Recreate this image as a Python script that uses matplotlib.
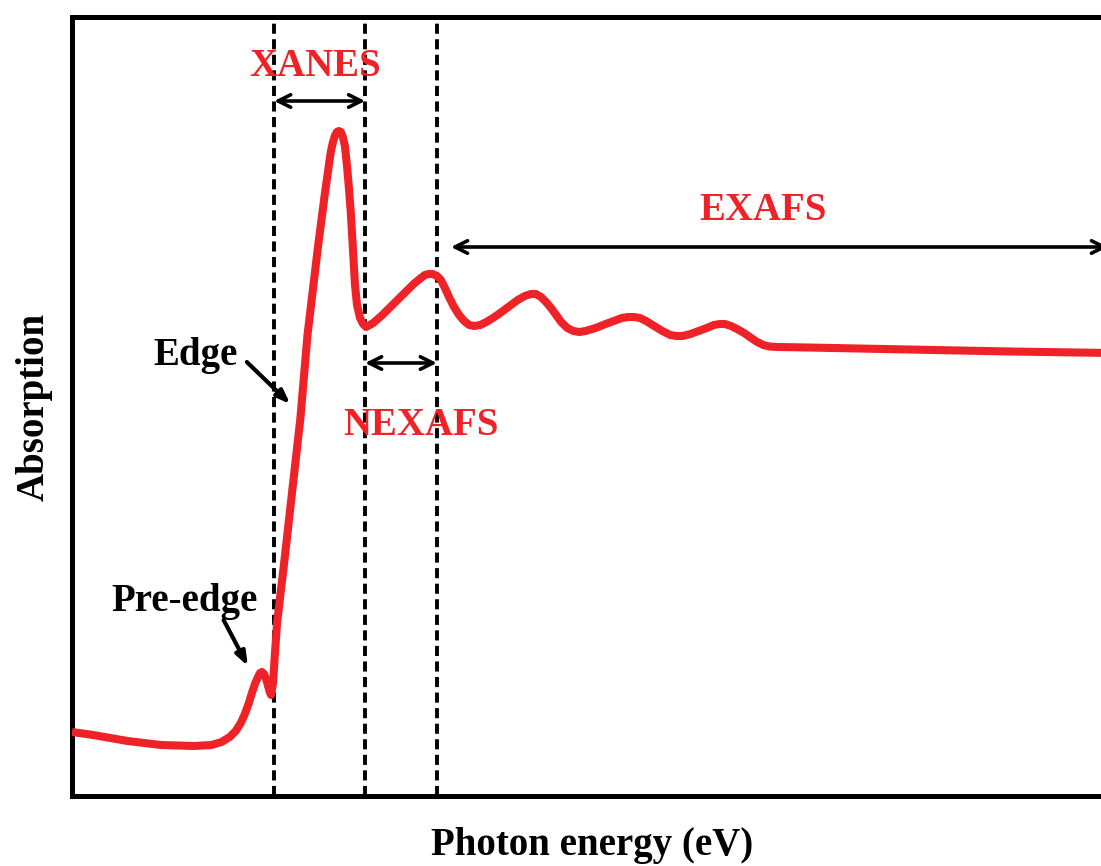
import numpy as np
import matplotlib
matplotlib.use("Agg")
import matplotlib.pyplot as plt

# schematic XAS spectrum (arbitrary units)
pre_edge_e = [72, 93, 127, 160, 193, 210, 220, 228, 234, 239, 243, 247, 250, 253,
              256, 258, 260, 262, 264, 266, 268, 269]
pre_edge_a = [64, 61, 55, 51, 50, 51, 54, 59, 65, 73, 82, 93, 103, 112,
              119, 123, 124, 122, 117, 110, 103, 101]

edge_e = [271, 273, 275, 282, 290, 298, 305, 315, 322, 328, 330, 332, 334, 336,
          338, 340, 342, 344, 346, 348, 350, 352, 354, 357, 360]
edge_a = [114, 146, 174, 234, 306, 378, 461, 546, 601, 644, 653, 660, 664, 665,
          664, 659, 650, 631, 608, 581, 546, 511, 491, 478, 472]

post_edge_e = [363, 370, 378, 386, 394, 402, 410, 416, 421, 425, 429, 433, 437, 441,
               445, 450, 455, 460, 465, 470, 476, 482, 490, 497, 505, 513, 520, 526,
               531, 536, 541, 546, 551, 556, 562, 568, 574, 580, 590, 600, 608, 616,
               622, 628, 634, 640, 648, 656, 664, 670, 676, 684, 692, 700, 707, 713,
               718, 724, 730, 737, 744, 750, 756, 762, 770, 800, 900, 1000, 1101]
post_edge_a = [469, 473, 480, 488, 496, 504, 512, 517, 521, 522, 522, 520, 516, 508,
               499, 489, 481, 475, 471, 470, 471, 474, 479, 484, 490, 496, 500, 502,
               502, 499, 494, 488, 481, 474, 468, 465, 464, 465, 468, 472, 475, 478,
               479, 479, 478, 475, 470, 465, 461, 460, 460, 462, 465, 468, 471, 472,
               472, 470, 467, 463, 458, 454, 451, 449.5, 449, 448.5, 446.5, 444.5, 443]

energy = pre_edge_e + edge_e + post_edge_e
absorb = pre_edge_a + edge_a + post_edge_a

region_edges = [272, 362, 433]
xanes_span = (272, 362)
nexafs_span = (362, 433)
exafs_span = (447, 1097)

red = "#ee2227"
font = "Liberation Serif"

fig = plt.figure(figsize=(11.01, 8.66), dpi=100)
ax = fig.add_axes([72 / 1101, 70 / 866, 1 - 72 / 1101 + 0.01, (796 - 17) / 866])

ax.plot(energy, absorb, color=red, lw=5.8, solid_capstyle="butt",
        solid_joinstyle="round", zorder=3)

for xe in region_edges:
    ax.axvline(xe, color="black", lw=2.8, dashes=(2.6, 1.4), zorder=2)

def span_arrow(x0, x1, y):
    ax.annotate("", xy=(x1, y), xytext=(x0, y),
                arrowprops=dict(arrowstyle="<->,head_length=0.9,head_width=0.45",
                                color="black", lw=2.6, shrinkA=0, shrinkB=0))

span_arrow(xanes_span[0], xanes_span[1], 695)
span_arrow(nexafs_span[0], nexafs_span[1], 433)
span_arrow(exafs_span[0], exafs_span[1], 549)

tkw = dict(family=font, fontweight="bold", fontsize=28, ha="center", va="center")
ax.text(312, 730, "XANES", color=red, **tkw)
ax.text(417, 371, "NEXAFS", color=red, **tkw)
ax.text(756, 586, "EXAFS", color=red, **tkw)
ax.text(194, 441, "Edge", color="black", **tkw)
ax.text(183, 195, "Pre-edge", color="black", **tkw)

hkw = dict(arrowstyle="-|>,head_length=0.8,head_width=0.3", color="black", lw=3,
           shrinkA=0, shrinkB=0)
ax.annotate("", xy=(288, 392), xytext=(245, 434), arrowprops=hkw)
ax.annotate("", xy=(246, 130), xytext=(222, 176), arrowprops=hkw)

ax.set_xlim(72, 1101)
ax.set_ylim(0, 779)
ax.set_xticks([])
ax.set_yticks([])
for s in ["left", "top", "bottom"]:
    ax.spines[s].set_linewidth(3.6)
ax.spines["right"].set_visible(False)

ax.set_xlabel("Photon energy (eV)", family=font, fontweight="bold", fontsize=28, labelpad=22)
ax.set_ylabel("Absorption", family=font, fontweight="bold", fontsize=28, labelpad=14)

fig.savefig("out.png", dpi=100)
